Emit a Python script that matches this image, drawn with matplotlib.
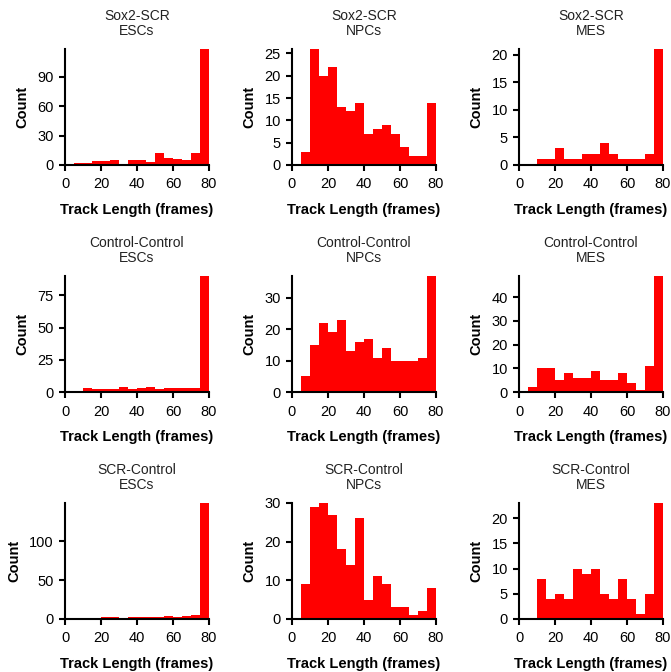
import matplotlib
matplotlib.use('Agg')
import matplotlib.pyplot as plt
import numpy as np

plt.rcParams['font.family'] = ['Liberation Sans', 'DejaVu Sans']

conditions = ['Sox2-SCR', 'Control-Control', 'SCR-Control']
cell_types = ['ESCs', 'NPCs', 'MES']
bin_edges = np.arange(0, 85, 5)

# counts per 5-frame bin (0-5, 5-10, ..., 75-80)
sox2_esc = [0, 2, 2, 4, 4, 5, 1, 5, 5, 3, 12, 7, 6, 5, 12, 118]
sox2_npc = [0, 3, 26, 20, 22, 13, 12, 14, 7, 8, 9, 7, 4, 2, 2, 14]
sox2_mes = [0, 0, 1, 1, 3, 1, 1, 2, 2, 4, 2, 1, 1, 1, 2, 21]
ctrl_esc = [0, 0, 3, 2, 2, 2, 4, 2, 3, 4, 2, 3, 3, 3, 3, 90]
ctrl_npc = [0, 5, 15, 22, 19, 23, 13, 16, 17, 11, 14, 10, 10, 10, 11, 37]
ctrl_mes = [0, 2, 10, 10, 5, 8, 6, 6, 9, 5, 5, 8, 4, 1, 11, 49]
scr_esc = [0, 0, 1, 1, 2, 2, 1, 2, 2, 2, 3, 4, 2, 4, 5, 149]
scr_npc = [0, 9, 29, 30, 27, 18, 14, 26, 5, 11, 9, 3, 3, 1, 2, 8]
scr_mes = [0, 0, 8, 4, 5, 4, 10, 9, 10, 5, 4, 8, 4, 1, 5, 23]

counts = [[sox2_esc, sox2_npc, sox2_mes],
          [ctrl_esc, ctrl_npc, ctrl_mes],
          [scr_esc, scr_npc, scr_mes]]
ytick_step = [[30, 5, 5], [25, 10, 10], [50, 10, 5]]

fig = plt.figure(figsize=(6.71, 6.72), dpi=100)
W, H = 671, 672
lefts = [65, 292, 519]
tops = [49, 276, 503]
aw, ah = 144, 116

for r in range(3):
    for c in range(3):
        ax = fig.add_axes([lefts[c] / W, 1 - (tops[r] + ah) / H, aw / W, ah / H])
        vals = counts[r][c]
        ax.stairs(vals, bin_edges, fill=True, color='#ff0000', lw=0.8)
        ax.set_xlim(0, 80)
        ax.set_ylim(0, max(vals))
        ax.set_xticks([0, 20, 40, 60, 80])
        ax.set_yticks(np.arange(0, max(vals) + 1, ytick_step[r][c]))
        for s in ('top', 'right'):
            ax.spines[s].set_visible(False)
        for s in ('left', 'bottom'):
            ax.spines[s].set_linewidth(1.5)
        ax.tick_params(width=1.5, length=4.5, labelsize=10.5, color='black', pad=3.5)
        ax.tick_params(axis='x', pad=4.5)
        ax.set_xlabel('Track Length (frames)', fontsize=10.5, fontweight='bold', labelpad=8)
        ax.set_ylabel('Count', fontsize=10.5, fontweight='bold', labelpad=6)
        ax.set_title(f'{conditions[r]}\n{cell_types[c]}', fontsize=10, color='#222222',
                     pad=10, linespacing=1.1)

fig.savefig('out.png', dpi=100)
